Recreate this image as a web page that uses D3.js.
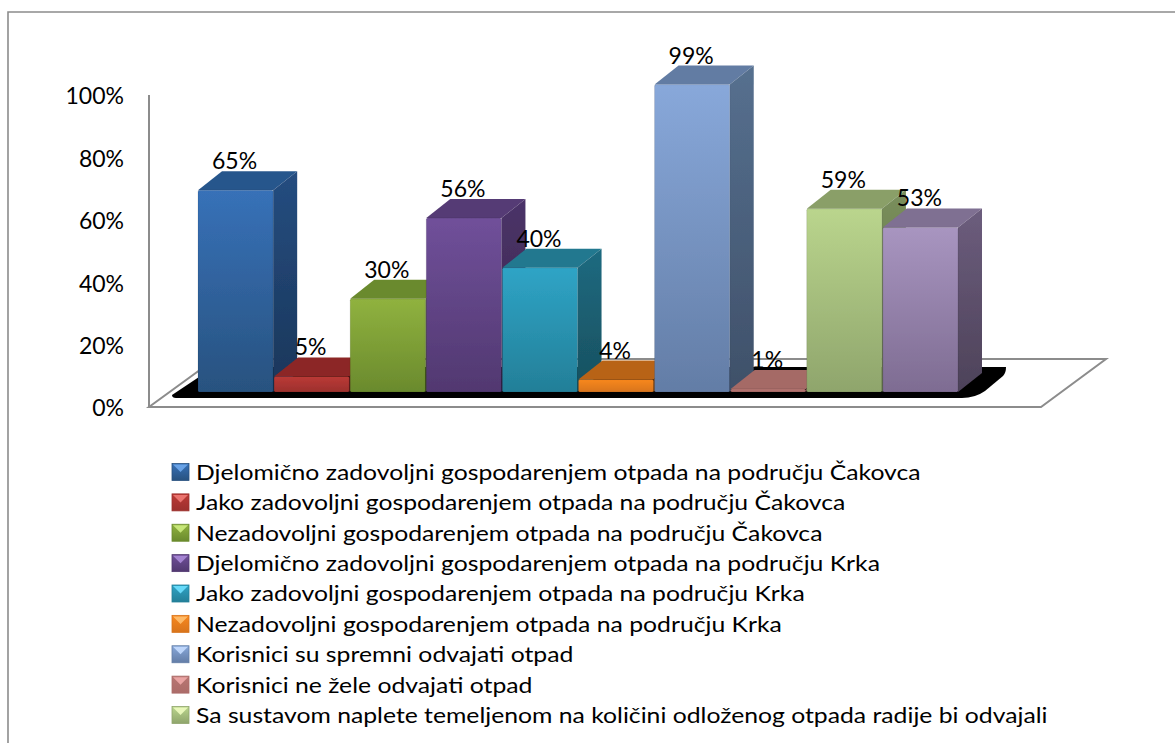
<!DOCTYPE html>
<html lang="hr">
  <head>
    <meta charset="UTF-8" />
    <title>Gospodarenje otpadom</title>
    <style>
      html, body { margin: 0; padding: 0; background: #fff; overflow: hidden; }
      text { font-family: Lato, "Open Sans", sans-serif; fill: #000; }
    </style>
  </head>
  <body>
    <div id="chart"></div>
    <script src="https://cdnjs.cloudflare.com/ajax/libs/d3/7.8.5/d3.min.js"></script>
    <script>
      // data
      var barIds = ["a", "b", "c", "d", "e", "f", "g", "h", "i", "j"];
      var values = [0.65, 0.05, 0.30, 0.56, 0.40, 0.04, 0.99, 0.01, 0.59, 0.53];
      // the tenth legend row falls outside the picture, so only nine are known
      var legendLabels = [
        "Djelomično zadovoljni gospodarenjem otpada na području Čakovca",
        "Jako zadovoljni gospodarenjem otpada na području Čakovca",
        "Nezadovoljni gospodarenjem otpada na području Čakovca",
        "Djelomično zadovoljni gospodarenjem otpada na području Krka",
        "Jako zadovoljni gospodarenjem otpada na području Krka",
        "Nezadovoljni gospodarenjem otpada na području Krka",
        "Korisnici su spremni odvajati otpad",
        "Korisnici ne žele odvajati otpad",
        "Sa sustavom naplete temeljenom na količini odloženog otpada radije bi odvajali"
      ];
      var yTicks = [0, 0.2, 0.4, 0.6, 0.8, 1];

      var frontLight = ["#3771b8", "#bb3a36", "#90b23f", "#70509a", "#2fa4c6", "#f8881f", "#88a8da", "#b87673", "#bad58d", "#a895c0"];
      var frontDark  = ["#28527f", "#9c302d", "#6a8a2d", "#513870", "#237f98", "#d8741c", "#637da6", "#ac6c69", "#8fa56c", "#7e6c92"];
      var topColor   = ["#27568c", "#8c2825", "#6b8a2e", "#553b75", "#23788f", "#b86318", "#627ca3", "#a56a66", "#8a9f68", "#7f6f92"];
      var sideLight  = ["#254d80", "#7a2320", "#5c7728", "#4b3368", "#1f6a80", "#a05615", "#56708f", "#8f5a57", "#7a8f5c", "#6c5d7d"];
      var sideDark   = ["#1a365a", "#5e1b19", "#46591e", "#38264e", "#17505f", "#7a4110", "#3f5069", "#6e4543", "#5c6c45", "#4d4259"];
      var swatchLight = ["#6fa8ec", "#f07a74", "#cdec80", "#ab8bd8", "#6ee0ff", "#ffc070", "#c4dcff", "#f0aaa8", "#eefcc0", "#d8c8ec"];

      var width = 1175;
      var height = 743;
      var depthX = 24;
      var depthY = 19;

      var svg = d3.select("#chart")
                  .append("svg")
                  .attr("width", width)
                  .attr("height", height)
                  .style("display", "block");

      var defs = svg.append("defs");

      function addGradient(id, top, bottom) {
        var g = defs.append("linearGradient")
                    .attr("id", id)
                    .attr("x1", 0).attr("y1", 0)
                    .attr("x2", 0).attr("y2", 1);
        g.append("stop").attr("offset", "0%").attr("stop-color", top);
        g.append("stop").attr("offset", "100%").attr("stop-color", bottom);
      }
      barIds.forEach(function(id, i) {
        addGradient("front-" + id, frontLight[i], frontDark[i]);
        addGradient("side-" + id, sideLight[i], sideDark[i]);
      });

      defs.append("filter").attr("id", "soft")
          .append("feGaussianBlur").attr("stdDeviation", 0.45);

      var xScale = d3.scaleBand()
                     .domain(barIds)
                     .range([198, 958])
                     .paddingInner(0.012)
                     .paddingOuter(0);

      var yScale = d3.scaleLinear()
                     .domain([0, 1])
                     .range([392, 81.5]);

      // the axis sits in front of the bars, on the front edge of the floor
      var yAxisScale = d3.scaleLinear()
                         .domain([0, 1])
                         .range([407, 95]);

      // outer frame, only top and left show
      svg.append("path")
         .attr("d", "M8,743V12H1175")
         .attr("fill", "none")
         .attr("stroke", "#8c8c8c")
         .attr("stroke-width", 1.6);

      // wall and floor
      var floorY = yAxisScale(0);
      svg.append("path")
         .attr("d", "M149," + yAxisScale(1) + "V" + floorY)
         .attr("fill", "none")
         .attr("stroke", "#8c8c8c")
         .attr("stroke-width", 2);
      svg.append("path")
         .attr("d", "M149," + floorY + "H1041L1106,359H215Z")
         .attr("fill", "#fff")
         .attr("stroke", "#8c8c8c")
         .attr("stroke-width", 2)
         .attr("stroke-linejoin", "miter");

      // shadow under the bars
      svg.append("path")
         .attr("d", "M172,395Q172,398 176,398H962Q975,398 985,391L1003,376Q1006,373 1006,367H214Z")
         .attr("fill", "#000");

      var bars = svg.append("g").attr("filter", "url(#soft)");

      var bar = bars.selectAll("g")
                    .data(values)
                    .enter()
                    .append("g");

      // top face
      bar.append("path")
         .attr("d", function(d, i) {
           var x0 = xScale(barIds[i]), x1 = x0 + xScale.bandwidth(), y = yScale(d);
           return "M" + x0 + "," + y + "L" + (x0 + depthX) + "," + (y - depthY) +
                  "H" + (x1 + depthX) + "L" + x1 + "," + y + "Z";
         })
         .attr("fill", function(d, i) { return topColor[i]; });

      // side face
      bar.append("path")
         .attr("d", function(d, i) {
           var x1 = xScale(barIds[i]) + xScale.bandwidth(), y = yScale(d);
           return "M" + x1 + "," + y + "L" + (x1 + depthX) + "," + (y - depthY) +
                  "V" + (yScale(0) - depthY) + "L" + x1 + "," + yScale(0) + "Z";
         })
         .attr("fill", function(d, i) { return "url(#side-" + barIds[i] + ")"; });

      // front face
      bar.append("rect")
         .attr("x", function(d, i) { return xScale(barIds[i]); })
         .attr("y", function(d) { return yScale(d); })
         .attr("width", xScale.bandwidth())
         .attr("height", function(d) { return yScale(0) - yScale(d); })
         .attr("rx", 1.5)
         .attr("fill", function(d, i) { return "url(#front-" + barIds[i] + ")"; })
         .attr("stroke", "#000")
         .attr("stroke-opacity", 0.1);

      // value labels
      svg.selectAll(".value")
         .data(values)
         .enter()
         .append("text")
         .attr("class", "value")
         .attr("x", function(d, i) { return xScale(barIds[i]) + xScale.bandwidth() / 2 - 1; })
         .attr("y", function(d) { return yScale(d) - depthY - 2; })
         .attr("text-anchor", "middle")
         .attr("font-size", 23)
         .text(function(d) { return d3.format(".0%")(d); });

      // y axis labels
      var yAxis = d3.axisLeft()
                    .scale(yAxisScale)
                    .tickValues(yTicks)
                    .tickSize(0)
                    .tickPadding(0)
                    .tickFormat(d3.format(".0%"));

      var axisG = svg.append("g")
                     .attr("transform", "translate(124,1.5)")
                     .call(yAxis);
      axisG.select(".domain").remove();
      axisG.selectAll("text")
           .attr("font-size", 23)
           .style("font-family", "Lato, sans-serif")
           .attr("fill", "#000");

      // legend
      var legendY = d3.scalePoint()
                      .domain(d3.range(legendLabels.length))
                      .range([472, 715]);
      var s = 17;

      var legend = svg.selectAll(".legend")
                      .data(legendLabels)
                      .enter()
                      .append("g")
                      .attr("class", "legend")
                      .attr("transform", function(d, i) {
                        return "translate(172," + (legendY(i) - s / 2) + ")";
                      });

      legend.append("rect")
            .attr("width", s)
            .attr("height", s)
            .attr("fill", function(d, i) { return "url(#front-" + barIds[i] + ")"; })
            .attr("stroke", function(d, i) { return frontDark[i]; })
            .attr("stroke-width", 0.8);

      legend.append("path")
            .attr("d", "M1,1H" + (s - 1) + "L" + (s / 2) + "," + (s / 2) + "Z")
            .attr("fill", function(d, i) { return swatchLight[i]; })
            .attr("opacity", 0.9);

      // text in the picture is stretched sideways, Lato needs the same
      legend.append("text")
            .attr("transform", "translate(" + (s + 7) + "," + (s / 2) + ") scale(1.125,1)")
            .attr("dy", "0.36em")
            .attr("font-size", 22)
            .text(function(d) { return d; });
    </script>
  </body>
</html>
